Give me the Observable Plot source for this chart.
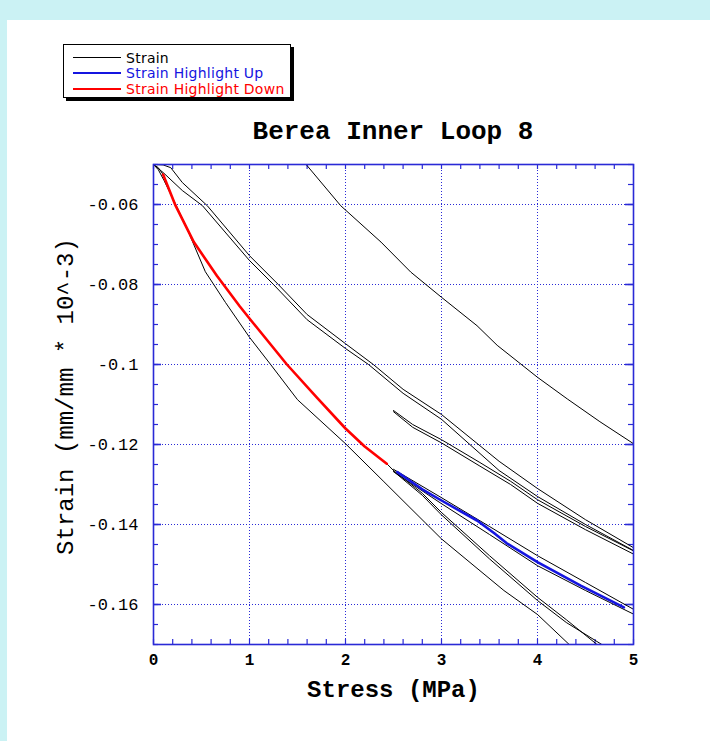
<!DOCTYPE html>
<html><head><meta charset="utf-8">
<script src="https://cdn.jsdelivr.net/npm/d3@7"></script>
<script src="https://cdn.jsdelivr.net/npm/@observablehq/plot@0.6"></script>
<style>
html,body{margin:0;padding:0;}
body{width:710px;height:741px;background:#cbf2f4;position:relative;overflow:hidden;}
#panel{position:absolute;left:7px;top:20px;width:703px;height:721px;background:#fff;}
#legend{position:absolute;left:63px;top:44px;width:226px;height:52px;border:1px solid #000;box-shadow:3px 3px 0 #000;background:#fff;font-family:"DejaVu Sans",sans-serif;font-size:14px;letter-spacing:0.25px;}
.row{position:absolute;left:9px;height:15px;display:flex;align-items:center;white-space:nowrap;}
.sw{width:48px;margin-right:5px;}
#title{position:absolute;left:153px;width:480px;top:117px;text-align:center;font:bold 26px "Liberation Mono",monospace;}
#chart{position:absolute;left:0;top:150px;}
</style></head><body>
<div id="panel"></div>
<div id="legend"></div>
<div id="title"></div>
<div id="chart"></div>
<script>
// ---- data (Stress MPa, Strain) ----
const titleText = "Berea Inner Loop 8";
const xLabel = "Stress (MPa)";
const yLabel = "Strain (mm/mm * 10^-3)";
const seriesNames = ["Strain", "Strain Highlight Up", "Strain Highlight Down"];
const xTicks = [0, 1, 2, 3, 4, 5];
const xTickLabels = ["0", "1", "2", "3", "4", "5"];
const yTicks = [-0.06, -0.08, -0.1, -0.12, -0.14, -0.16];
const yTickLabels = ["-0.06", "-0.08", "-0.1", "-0.12", "-0.14", "-0.16"];

const strainTop = [[1.59,-0.05],[1.95,-0.0603],[2.37,-0.0694],[2.68,-0.0769],[3.0,-0.0832],[3.37,-0.0903],[3.58,-0.0952],[4.0,-0.1032],[4.31,-0.1086],[4.65,-0.1143],[5.0,-0.1198]];
const strainA1 = [[0,-0.05],[0.1,-0.0501],[0.18,-0.0508],[0.3,-0.0545],[0.56,-0.0603],[1.0,-0.0728],[1.3,-0.08],[1.6,-0.0875],[2.0,-0.0948],[2.29,-0.1],[2.6,-0.1062],[3.0,-0.1125],[3.6,-0.1242],[4.0,-0.131],[4.5,-0.1388],[5.0,-0.1458]];
const strainA2 = [[0,-0.05],[0.1,-0.052],[0.3,-0.0565],[0.51,-0.0603],[1.0,-0.074],[1.25,-0.08],[1.6,-0.0888],[2.0,-0.096],[2.24,-0.1],[2.6,-0.1072],[3.0,-0.1137],[3.6,-0.1265],[4.0,-0.133],[4.5,-0.14],[5.0,-0.1465]];
const strainB1 = [[2.5,-0.1115],[2.7,-0.115],[3.0,-0.1188],[3.4,-0.1245],[3.72,-0.1292],[4.0,-0.1338],[4.5,-0.1405],[5.0,-0.1466]];
const strainB2 = [[2.5,-0.1118],[2.7,-0.1157],[3.0,-0.1196],[3.4,-0.1254],[3.72,-0.13],[4.0,-0.1347],[4.5,-0.1413],[5.0,-0.1474]];
const strainL1 = [[0,-0.05],[0.05,-0.0513],[0.11,-0.054],[0.32,-0.0644],[0.54,-0.0768],[0.75,-0.0845],[1.0,-0.0932],[1.22,-0.1],[1.5,-0.1088],[2.0,-0.1198],[2.4,-0.1293],[3.0,-0.1436],[3.65,-0.1565],[4.0,-0.1625],[4.33,-0.17]];
const strainDown = [[0,-0.05],[0.05,-0.0508],[0.1,-0.0525],[0.23,-0.0603],[0.42,-0.0694],[0.66,-0.0778],[0.9,-0.0855],[1.0,-0.0885],[1.39,-0.1],[1.7,-0.1082],[2.0,-0.116],[2.2,-0.1205],[2.43,-0.1248],[2.5,-0.1265]];
const strainC1 = [[2.5,-0.1262],[3.0,-0.1333],[3.5,-0.1405],[4.0,-0.1478],[4.5,-0.1545],[5.0,-0.1612]];
const strainC2 = [[2.5,-0.1268],[3.0,-0.1348],[3.5,-0.1425],[4.0,-0.1503],[4.5,-0.1565],[5.0,-0.1624]];
const strainD1 = [[2.5,-0.1265],[2.8,-0.1322],[3.0,-0.137],[3.5,-0.1478],[4.0,-0.1582],[4.3,-0.1638],[4.62,-0.17]];
const strainD2 = [[2.5,-0.1267],[2.8,-0.1327],[3.0,-0.1376],[3.5,-0.1486],[4.0,-0.159],[4.3,-0.1645],[4.67,-0.17]];
const highlightDown = [[0.1,-0.0525],[0.23,-0.0603],[0.42,-0.0694],[0.66,-0.0778],[0.9,-0.0855],[1.0,-0.0885],[1.39,-0.1],[1.7,-0.1082],[2.0,-0.116],[2.2,-0.1205],[2.43,-0.1248]];
const highlightUp = [[2.54,-0.1269],[2.8,-0.1312],[3.0,-0.134],[3.37,-0.139],[3.55,-0.1422],[3.68,-0.1447],[4.0,-0.1494],[4.45,-0.1553],[4.9,-0.1607]];

// ---- build ----
const BLUE = "#2a2ad6";
const segs = {strainTop, strainA1, strainA2, strainB1, strainB2, strainL1, strainDown, strainC1, strainC2, strainD1, strainD2};
const blackRows = Object.entries(segs).flatMap(([k, pts]) => pts.map(([x, y]) => ({seg: k, x, y})));
const toRows = pts => pts.map(([x, y]) => ({x, y}));
const xDom = [0, 5], yDom = [-0.17, -0.05];
const xMinor = d3.range(0, 5.0001, 0.2).map(v => +v.toFixed(2));
const yMinor = d3.range(-0.17, -0.04999, 0.005).map(v => +v.toFixed(3));

// legend
const legend = document.getElementById("legend");
[["#000", 1], ["#1515e0", 2.5], ["#ff0000", 2.5]].forEach(([c, w], i) => {
  const r = document.createElement("div");
  r.className = "row";
  r.style.top = (5 + i * 15.5) + "px";
  r.innerHTML = `<div class="sw" style="border-top:${w}px solid ${c}"></div><span style="color:${c}">${seriesNames[i]}</span>`;
  legend.appendChild(r);
});
document.getElementById("title").textContent = titleText;

const tickStyle = {stroke: BLUE, strokeWidth: 1.2};
const chart = Plot.plot({
  width: 710, height: 570,
  marginLeft: 153, marginRight: 77, marginTop: 14, marginBottom: 76,
  x: {domain: xDom},
  y: {domain: yDom},
  style: {background: "transparent", fontFamily: "Liberation Mono, monospace", color: "#000"},
  marks: [
    Plot.ruleX(xTicks.slice(1, -1), {stroke: BLUE, strokeWidth: 1, strokeDasharray: "1,2"}),
    Plot.ruleY(yTicks, {stroke: BLUE, strokeWidth: 1, strokeDasharray: "1,2"}),
    // inward ticks
    Plot.ruleX(xMinor, {x: d => d, y1: () => yDom[0], y2: () => yDom[0], insetBottom: 5, ...tickStyle}),
    Plot.ruleX(xMinor, {x: d => d, y1: () => yDom[1], y2: () => yDom[1], insetTop: 5, ...tickStyle}),
    Plot.ruleY(yMinor, {y: d => d, x1: () => xDom[0], x2: () => xDom[0], insetLeft: 5, ...tickStyle}),
    Plot.ruleY(yMinor, {y: d => d, x1: () => xDom[1], x2: () => xDom[1], insetRight: 5, ...tickStyle}),
    Plot.ruleY(yTicks, {y: d => d, x1: () => xDom[0], x2: () => xDom[0], insetLeft: 8, stroke: BLUE, strokeWidth: 1.6}),
    Plot.ruleY(yTicks, {y: d => d, x1: () => xDom[1], x2: () => xDom[1], insetRight: 8, stroke: BLUE, strokeWidth: 1.6}),
    // data
    Plot.line(blackRows, {x: "x", y: "y", z: "seg", stroke: "#000", strokeWidth: 1, clip: true}),
    Plot.line(toRows(highlightDown), {x: "x", y: "y", stroke: "#ff0000", strokeWidth: 2.6}),
    Plot.line(toRows(highlightUp), {x: "x", y: "y", stroke: "#1515e0", strokeWidth: 2.6}),
    Plot.frame({stroke: BLUE, strokeWidth: 1.6}),
    Plot.axisX({ticks: xTicks, tickSize: 0, tickPadding: 9, tickFormat: (d, i) => xTickLabels[i], fontSize: 16, fontWeight: "bold", label: null}),
    Plot.axisY({ticks: yTicks, tickSize: 0, tickPadding: 15, tickFormat: (d, i) => yTickLabels[i], fontSize: 17, label: null}),
    Plot.text([xLabel], {text: d => d, frameAnchor: "bottom", dy: 52, fontSize: 24, fontWeight: "bold", fontFamily: "Liberation Mono, monospace"}),
    Plot.text([yLabel], {text: d => d, frameAnchor: "left", textAnchor: "middle", dx: -88, dy: -8, rotate: -90, fontSize: 24, fontFamily: "Liberation Mono, monospace"})
  ]
});
document.getElementById("chart").appendChild(chart);
</script>
</body></html>
